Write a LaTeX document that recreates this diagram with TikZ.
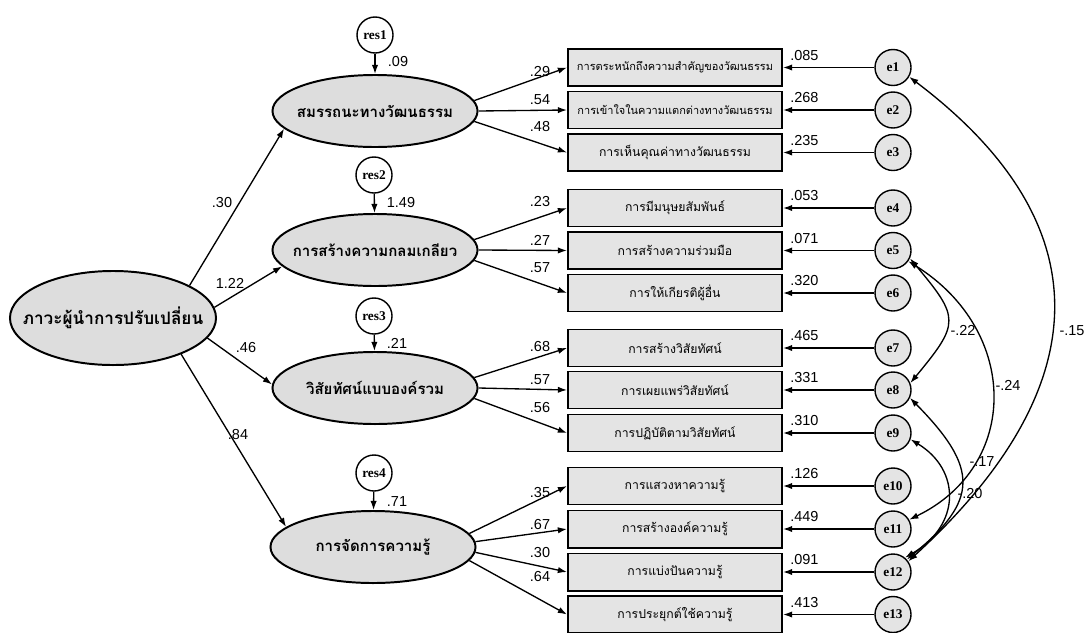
\documentclass[tikz,border=0pt]{standalone}
\usepackage{fontspec}
\setmainfont{Liberation Sans}
\newfontfamily\thai[Script=Thai]{Loma}
\newfontfamily\labserif{Liberation Serif}
\usetikzlibrary{shapes.geometric,arrows.meta}
\definecolor{latfill}{HTML}{DDDDDD}
\definecolor{boxfill}{HTML}{E4E4E4}
\definecolor{errfill}{HTML}{E4E4E4}
% text of fixed-size shapes takes no room, so the shape keeps its set size
\newcommand{\zerowd}[1]{\makebox[0pt]{#1}}
\begin{document}
\begin{tikzpicture}[x=0.025cm,y=-0.025cm,
  every node/.style={inner sep=0pt},
  latent/.style={ellipse,draw,line width=1.4pt,fill=latfill,
    minimum width=5.125cm,minimum height=1.8cm,
    font=\thai\bfseries\fontsize{10.7}{12}\selectfont},
  mainlat/.style={latent,minimum width=5.15cm,minimum height=2.35cm,
    font=\thai\bfseries\fontsize{12.2}{14}\selectfont},
  indic/.style={rectangle,draw,line width=1.4pt,fill=boxfill,
    minimum width=5.35cm,minimum height=0.925cm,
    font=\thai\fontsize{8.7}{10}\selectfont},
  small/.style={font=\thai\fontsize{7.8}{9}\selectfont},
  resid/.style={circle,draw,line width=1pt,fill=white,minimum size=0.9cm,
    font=\labserif\bfseries\fontsize{9.5}{11}\selectfont},
  err/.style={resid,fill=errfill},
  num/.style={font=\fontsize{10.3}{12}\selectfont},
  arr/.style={-{Latex[length=6.5pt,width=4.5pt]},line width=0.95pt},
  cov/.style={{Latex[length=6.5pt,width=4.5pt]}-{Latex[length=6.5pt,width=4.5pt]},line width=0.95pt}
]
\useasboundingbox (0,0) rectangle (1089,632);

% exogenous factor
\node[mainlat] (main) at (113,318) {\zerowd{ภาวะผู้นำการปรับเปลี่ยน}};

% first-order factors and their residuals
\node[latent] (F1) at (375,111) {\zerowd{สมรรถนะทางวัฒนธรรม}};
\node[latent] (F2) at (375,250) {\zerowd{การสร้างความกลมเกลียว}};
\node[latent] (F3) at (375,388) {\zerowd{วิสัยทัศน์แบบองค์รวม}};
\node[latent] (F4) at (373,547) {\zerowd{การจัดการความรู้}};

\node[resid] (r1) at (375,35) {res1};
\node[resid] (r2) at (374,175) {res2};
\node[resid] (r3) at (374,316) {res3};
\node[resid] (r4) at (374,473) {res4};

\draw[arr] (r1) -- (F1);
\draw[arr] (r2) -- (F2);
\draw[arr] (r3) -- (F3);
\draw[arr] (r4) -- (F4);
\node[num] (v1) at (398,62) {.09};
\node[num] (v2) at (401,203) {1.49};
\node[num] (v3) at (397,343) {.21};
\node[num] (v4) at (397,502) {.71};

% structural paths
\draw[arr] (main.23) -- (F1.191);
\draw[arr] (main.6) -- (F2.190);
\draw[arr] (main.-12) -- (F3.178);
\draw[arr] (main.-28) -- (F4.167);
\node[num] (g1) at (222,203) {.30};
\node[num] (g2) at (230,283) {1.22};
\node[num] (g3) at (246,348) {.46};
\node[num] (g4) at (238,435) {.84};

% indicators
\node[indic,small] (b1) at (675,67.5) {\zerowd{การตระหนักถึงความสำคัญของวัฒนธรรม}};
\node[indic,small] (b2) at (675,110) {\zerowd{การเข้าใจในความแตกต่างทางวัฒนธรรม}};
\node[indic] (b3) at (675,152.5) {การเห็นคุณค่าทางวัฒนธรรม};
\node[indic] (b4) at (675,208) {การมีมนุษยสัมพันธ์};
\node[indic] (b5) at (675,250.5) {การสร้างความร่วมมือ};
\node[indic] (b6) at (675,293) {การให้เกียรติผู้อื่น};
\node[indic] (b7) at (675,348) {การสร้างวิสัยทัศน์};
\node[indic] (b8) at (675,390) {การเผยแพร่วิสัยทัศน์};
\node[indic] (b9) at (675,433) {การปฏิบัติตามวิสัยทัศน์};
\node[indic] (b10) at (675,486) {การแสวงหาความรู้};
\node[indic] (b11) at (675,529) {การสร้างองค์ความรู้};
\node[indic] (b12) at (675,572) {การแบ่งปันความรู้};
\node[indic] (b13) at (675,614.5) {การประยุกต์ใช้ความรู้};

% loadings
\draw[arr] (F1.6) -- (b1.west);
\draw[arr] (F1.0) -- (b2.west);
\draw[arr] (F1.-6) -- (b3.west);
\draw[arr] (F2.6) -- (b4.west);
\draw[arr] (F2.0) -- (b5.west);
\draw[arr] (F2.-6) -- (b6.west);
\draw[arr] (F3.6) -- (b7.west);
\draw[arr] (F3.0) -- (b8.west);
\draw[arr] (F3.-6) -- (b9.west);
\draw[arr] (F4.8) -- (b10.west);
\draw[arr] (F4.3) -- (b11.west);
\draw[arr] (F4.-3) -- (b12.west);
\draw[arr] (F4.-8) -- (b13.west);

\node[num] (l1) at (540,72) {.29};
\node[num] (l2) at (540,100) {.54};
\node[num] (l3) at (540,127) {.48};
\node[num] (l4) at (540,202) {.23};
\node[num] (l5) at (540,240) {.27};
\node[num] (l6) at (540,268) {.57};
\node[num] (l7) at (540,347) {.68};
\node[num] (l8) at (540,380) {.57};
\node[num] (l9) at (540,408) {.56};
\node[num] (l10) at (540,493) {.35};
\node[num] (l11) at (540,525) {.67};
\node[num] (l12) at (540,553) {.30};
\node[num] (l13) at (540,577) {.64};

% measurement errors
\foreach \i/\y/\v in {1/67.5/.085,2/110/.268,3/152.5/.235,4/208/.053,5/250.5/.071,
  6/293/.320,7/348/.465,8/390/.331,9/433/.310,10/486/.126,11/529/.449,
  12/572/.091,13/614.5/.413}{
  \node[err] (e\i) at (893,\y) {e\i};
  \draw[arr] (e\i) -- (b\i);
  \node[num,anchor=south west] (ev\i) at (790,\y-7) {\v};
}

% error covariances
\draw[cov] (e1.-30) .. controls (1112,230) and (1090,395) .. (e12.35);
\draw[cov] (e5.-25) .. controls (960,318) and (960,323) .. (e8.22);
\draw[cov] (e5.-35) .. controls (1020,331) and (1020,466) .. (e11.30);
\draw[cov] (e8.-25) .. controls (979,468) and (979,500) .. (e12.42);
\draw[cov] (e9.-20) .. controls (961,470) and (961,525) .. (e12.50);
\node[num] (c1) at (1072,331) {-.15};
\node[num] (c2) at (963,330) {-.22};
\node[num] (c3) at (1008,385) {-.24};
\node[num] (c4) at (982,462) {-.17};
\node[num] (c5) at (970,494) {-.20};
\end{tikzpicture}
\end{document}
